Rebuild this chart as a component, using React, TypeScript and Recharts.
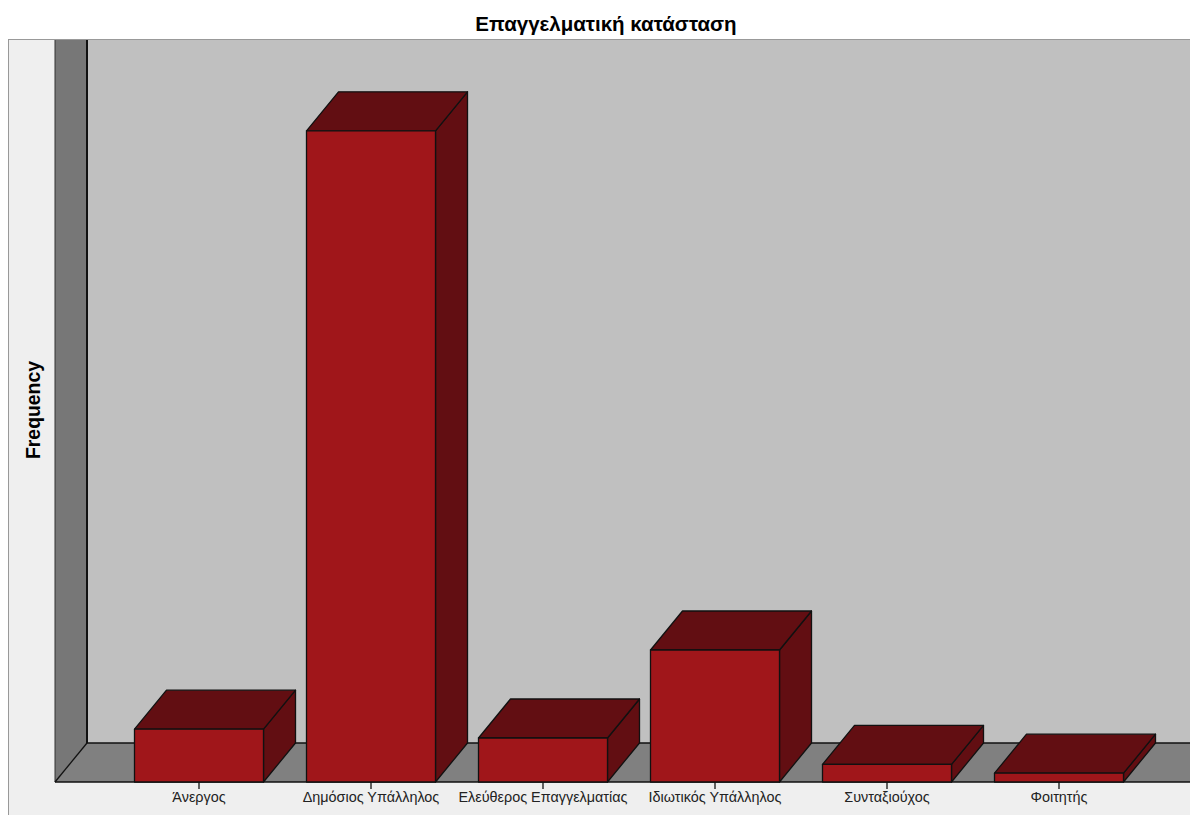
import React from 'react';
import { BarChart, Bar, XAxis, YAxis } from 'recharts';

const categories = [
 'Άνεργος',
 'Δημόσιος Υπάλληλος',
 'Ελεύθερος Επαγγελματίας',
 'Ιδιωτικός Υπάλληλος',
 'Συνταξιούχος',
 'Φοιτητής'
];
const frequencies = [6, 74, 5, 15, 2, 1];
const yDomain: [number, number] = [0, 80];

const W = 1190;
const H = 815;
// plot area (front plane)
const PLOT_LEFT = 113;
const PLOT_RIGHT = 1145;
const PLOT_TOP = 78;
const PLOT_BOTTOM = 782;
const X_AXIS_H = 30;
// 3d depth offset
const DX = 32;
const DY = 39;
const WALL_X = 55;

const FONT = "'Liberation Sans', Arial, sans-serif";
const FRONT = '#a0161a';
const DARK = '#620e12';

const data = categories.map((name, i) => ({ name, value: frequencies[i] }));

const Box3D = (props: any) => {
 const { x, y, width, height } = props;
 if (width == null || height == null) return null;
 const w = width;
 const h = height;
 const top = `${x},${y} ${x + DX},${y - DY} ${x + w + DX},${y - DY} ${x + w},${y}`;
 const side = `${x + w},${y} ${x + w + DX},${y - DY} ${x + w + DX},${y + h - DY} ${x + w},${y + h}`;
 return (
  <g stroke="#111" strokeWidth={1.3} strokeLinejoin="round">
   <polygon points={side} fill={DARK} />
   <polygon points={top} fill={DARK} />
   <rect x={x} y={y} width={w} height={h} fill={FRONT} />
  </g>
 );
};

// walls, floor, title and axis title behind the chart
const Backdrop = () => {
 const backBottom = PLOT_BOTTOM - DY;
 const backTop = PLOT_TOP - DY;
 const wallBack = WALL_X + DX;
 return (
  <svg width={W} height={H} style={{ position: 'absolute', left: 0, top: 0 }}>
   <rect x={0} y={0} width={W} height={H} fill="#fff" />
   <rect x={8.5} y={backTop + 0.5} width={W} height={H} fill="#efefef" stroke="#999" />
   <rect x={wallBack} y={backTop + 1} width={W - wallBack} height={backBottom - backTop - 1} fill="#c0c0c0" />
   <polygon
    points={`${WALL_X},${backTop + 1} ${wallBack},${backTop + 1} ${wallBack},${backBottom} ${WALL_X},${PLOT_BOTTOM}`}
    fill="#777"
   />
   <polygon
    points={`${WALL_X},${PLOT_BOTTOM} ${wallBack},${backBottom} ${W},${backBottom} ${W},${PLOT_BOTTOM}`}
    fill="#808080"
   />
   <line x1={WALL_X} y1={backTop + 1} x2={WALL_X} y2={PLOT_BOTTOM} stroke="#333" strokeWidth={1} />
   <line x1={wallBack} y1={backTop + 1} x2={wallBack} y2={backBottom} stroke="#111" strokeWidth={2} />
   <line x1={wallBack} y1={backBottom} x2={W} y2={backBottom} stroke="#111" strokeWidth={1.3} />
   <line x1={WALL_X} y1={PLOT_BOTTOM} x2={wallBack} y2={backBottom} stroke="#111" strokeWidth={1.3} />
   <line x1={WALL_X} y1={PLOT_BOTTOM} x2={W} y2={PLOT_BOTTOM} stroke="#111" strokeWidth={1.3} />
   <text
    x={606}
    y={23}
    textAnchor="middle"
    dominantBaseline="central"
    fontFamily={FONT}
    fontWeight="bold"
    fontSize={20.5}
    fill="#000"
   >
    Επαγγελματική κατάσταση
   </text>
   <text
    x={33}
    y={410}
    transform="rotate(-90 33 410)"
    textAnchor="middle"
    dominantBaseline="central"
    fontFamily={FONT}
    fontWeight="bold"
    fontSize={19.4}
    fill="#000"
   >
    Frequency
   </text>
  </svg>
 );
};

export default function App() {
 return (
  <div style={{ position: 'absolute', left: 0, top: 0, width: W, height: H }}>
   <Backdrop />
   <div style={{ position: 'absolute', left: 0, top: 0 }}>
    <BarChart
     width={W}
     height={H}
     data={data}
     barCategoryGap="12.5%"
     margin={{ top: PLOT_TOP, right: W - PLOT_RIGHT, bottom: H - PLOT_BOTTOM - X_AXIS_H, left: PLOT_LEFT }}
    >
     <XAxis
      dataKey="name"
      height={X_AXIS_H}
      axisLine={false}
      tickLine={{ stroke: '#111', strokeWidth: 1.3 }}
      tickSize={7}
      tickMargin={3}
      interval={0}
      tick={{ fontSize: 14.4, fill: '#222', fontFamily: FONT }}
     />
     <YAxis hide domain={yDomain} />
     <Bar dataKey="value" shape={Box3D} isAnimationActive={false} />
    </BarChart>
   </div>
  </div>
 );
}
